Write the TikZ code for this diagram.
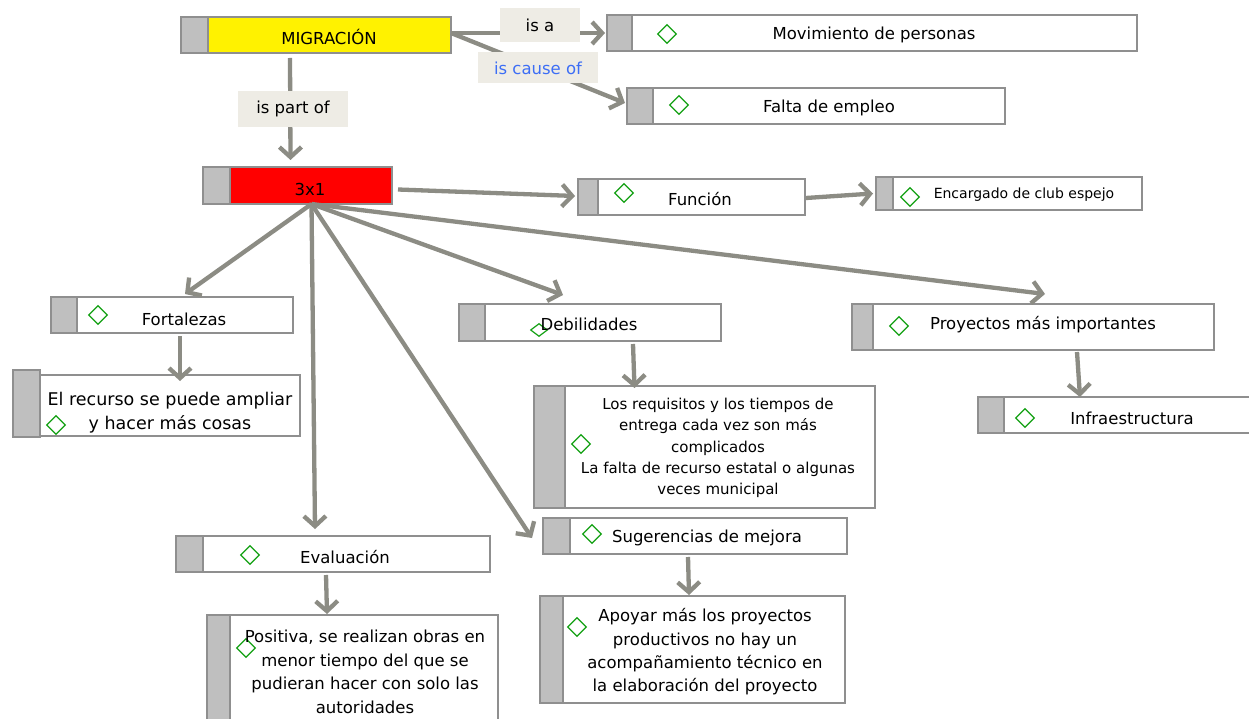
\documentclass[tikz,border=0pt]{standalone}
\usepackage{fontspec}
\setmainfont{DejaVu Sans}
\usetikzlibrary{arrows.meta,fit,shapes.geometric}
\definecolor{conn}{HTML}{8C8C84}
\definecolor{bord}{HTML}{8F8F8F}
\definecolor{tabc}{HTML}{BFBFBF}
\definecolor{lblbg}{HTML}{EEECE5}
\definecolor{dgreen}{HTML}{13A013}
\definecolor{blu}{HTML}{3D6EF5}
\newcommand\cmb[7]{%
  \fill[#7] (#2,#3) rectangle (#4,#5);
  \fill[tabc] (#2,#3) rectangle (#6,#5);
  \draw[bord, line width=1.3pt] (#6,#3) -- (#6,#5);
  \node[boxs, fit={(#2,#3) (#4,#5)}] (#1) {};
}
\begin{document}
\begin{tikzpicture}[x=1pt,y=-1pt,
  boxs/.style={draw=bord, line width=1.3pt, inner sep=0pt, outer sep=0pt},
  arr/.style={draw=conn, line width=4.3pt, -{Straight Barb[length=10pt,width=22pt]}},
  txt/.style={font=\fontsize{16.5}{19}\selectfont, align=center, inner sep=0pt},
  lbl/.style={fill=lblbg, inner sep=0pt, font=\fontsize{16.5}{19}\selectfont},
  dmd/.style={diamond, draw=dgreen, line width=1.2pt, minimum width=19pt, minimum height=19pt, inner sep=0pt}]
\useasboundingbox (0,0) rectangle (1249,719);
\fill[white] (0,0) rectangle (1249,719);

% boxes
\cmb{mig}{181}{17}{451}{53}{208}{yellow}
\cmb{mov}{607}{15}{1137}{51}{632}{white}
\cmb{fal}{627}{88}{1005}{124}{653}{white}
\cmb{tri}{203}{167}{392}{204}{230}{red}
\cmb{fun}{578}{179}{805}{215}{598}{white}
\cmb{enc}{876}{177}{1142}{210}{893}{white}
\cmb{fort}{51}{297}{293}{333}{77}{white}
\fill[tabc] (13,370) rectangle (40,437);
\draw[bord, line width=1.3pt] (13,370) rectangle (40,437);
\node[boxs, fill=white, fit={(40,375) (300,436)}] (rec) {};
\cmb{deb}{459}{304}{721}{341}{485}{white}
\cmb{req}{534}{386}{875}{508}{565}{white}
\cmb{pro}{852}{304}{1214}{350}{873}{white}
\cmb{inf}{978}{397}{1252}{433}{1004}{white}
\cmb{eva}{176}{536}{490}{572}{203}{white}
\cmb{pos}{207}{615}{498}{722}{230}{white}
\cmb{sug}{543}{518}{847}{554}{570}{white}
\cmb{apo}{540}{596}{845}{703}{563}{white}

% diamonds
\node[dmd] (d1) at (667,34) {};
\node[dmd] (d2) at (679,105) {};
\node[dmd] (d3) at (624,193) {};
\node[dmd] (d4) at (910,197) {};
\node[dmd] (d5) at (98,315) {};
\node[dmd] (d6) at (56,425) {};
\node[dmd, minimum width=17pt, minimum height=13pt] (d7) at (539,330) {};
\node[dmd] (d8) at (581,444) {};
\node[dmd] (d9) at (899,326) {};
\node[dmd] (d10) at (1025,418) {};
\node[dmd] (d11) at (250,555) {};
\node[dmd] (d12) at (246,648) {};
\node[dmd] (d13) at (592,534) {};
\node[dmd] (d14) at (577,627) {};

% texts
\node[txt] (tmig) at (329,37) {MIGRACIÓN};
\node[txt] (tmov) at (874,35) {Movimiento de personas};
\node[txt] (tfal) at (829,108) {Falta de empleo};
\node[txt] (ttri) at (310,189) {3x1};
\node[txt] (tfun) at (700,199) {Función};
\node[txt, font=\fontsize{14}{17}\selectfont] (tenc) at (1024,195) {Encargado de club espejo};
\node[txt] (tfort) at (184,319) {Fortalezas};
\node[txt, font=\fontsize{17.5}{24}\selectfont] (trec) at (170,413) {El recurso se puede ampliar\\y hacer más cosas};
\node[txt] (tdeb) at (589,324) {Debilidades};
\node[txt, font=\fontsize{15}{21.3}\selectfont] (treq) at (718,448) {Los requisitos y los tiempos de\\entrega cada vez son más\\complicados\\La falta de recurso estatal o algunas\\veces municipal};
\node[txt] (tpro) at (1043,325) {Proyectos más importantes};
\node[txt] (tinf) at (1132,418) {Infraestructura};
\node[txt] (teva) at (345,557) {Evaluación};
\node[txt, font=\fontsize{16.5}{23.5}\selectfont] (tpos) at (365,672) {Positiva, se realizan obras en\\menor tiempo del que se\\pudieran hacer con solo las\\autoridades};
\node[txt] (tsug) at (707,538) {Sugerencias de mejora};
\node[txt, font=\fontsize{16.5}{23.3}\selectfont] (tapo) at (705,652) {Apoyar más los proyectos\\productivos no hay un\\acompañamiento técnico en\\la elaboración del proyecto};

% connectors
\coordinate (hub) at ([xshift=14pt]tri.south);
\draw[arr] ([yshift=2pt]mig.east) -- ([xshift=-2pt]mov.west);
\draw[arr] ([yshift=2pt]mig.east) -- ([xshift=-2pt,yshift=3pt]fal.west);
\draw[arr] ([xshift=-26pt,yshift=-5pt]mig.south) -- ([xshift=-7pt,yshift=7pt]tri.north);
\draw[arr] ([xshift=6pt,yshift=-4pt]tri.east) -- ([xshift=-3pt,yshift=1pt]fun.west);
\draw[arr] ([xshift=1pt,yshift=-1pt]fun.east) -- ([xshift=-3pt,yshift=0pt]enc.west);
\draw[arr] (hub) -- ([xshift=13pt,yshift=3pt]fort.north);
\draw[arr] (hub) -- ([xshift=-18pt,yshift=7pt]eva.north);
\draw[arr] (hub) -- ([xshift=-11pt,yshift=-2pt]sug.west);
\draw[arr] (hub) -- ([xshift=-27pt,yshift=9pt]deb.north);
\draw[arr] (hub) -- ([xshift=12pt,yshift=10pt]pro.north);
\draw[arr] ([xshift=8pt,yshift=-3pt]fort.south) -- ([xshift=10pt,yshift=-6pt]rec.north);
\draw[arr] ([xshift=43pt,yshift=-3pt]deb.south) -- ([xshift=-70pt,yshift=-2pt]req.north);
\draw[arr] ([xshift=44pt,yshift=-2pt]pro.south) -- ([xshift=-35pt]inf.north);
\draw[arr] ([xshift=-7pt,yshift=-3pt]eva.south) -- ([xshift=-25.5pt,yshift=1pt]pos.north);
\draw[arr] ([xshift=-7pt,yshift=-3pt]sug.south) -- ([xshift=-3.5pt,yshift=1pt]apo.north);

% link labels
\node[lbl, minimum width=80pt, minimum height=34pt] (lisa) at (540,25) {is a};
\node[lbl, minimum width=120pt, minimum height=31pt, text=blu] (lcause) at (538,68) {is cause of};
\node[lbl, minimum width=110pt, minimum height=36pt] (lpart) at (293,109) {is part of};
\end{tikzpicture}
\end{document}
